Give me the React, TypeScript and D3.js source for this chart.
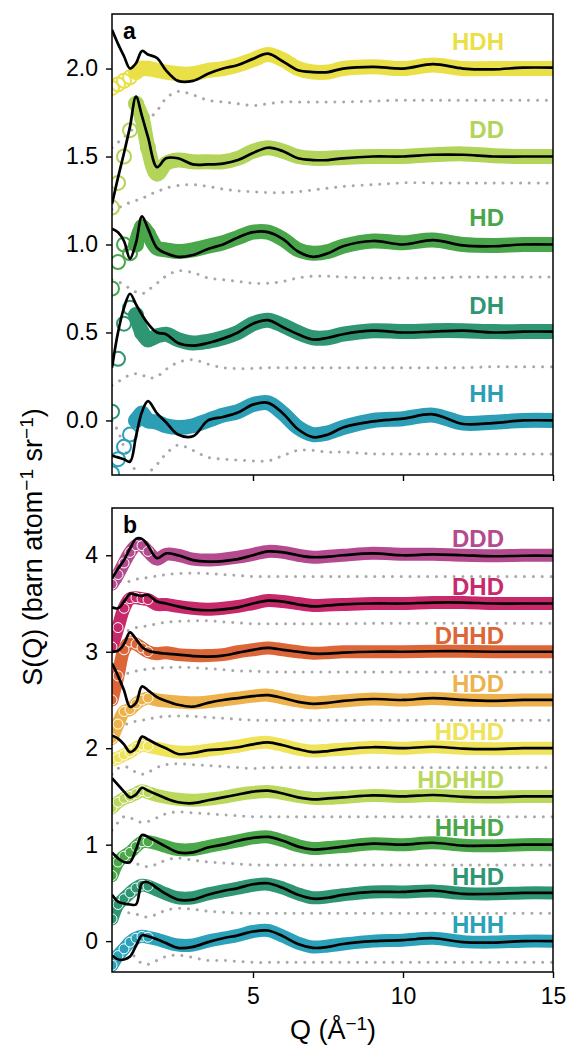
import React, { useEffect, useRef } from "react";
import * as d3 from "d3";

// Q grid (1/Å) shared by every curve
const Q = [0.3, 0.5, 0.7, 0.9, 1.1, 1.3, 1.5, 1.8, 2.1, 2.5, 3.0, 3.5, 4.0, 4.5, 5.0, 5.5, 6.0, 6.5, 7.0, 7.5, 8.0, 9.0, 10.0, 11.0, 12.0, 13.0, 14.0, 15.0];

// panel a
const topNames = ["HDH", "DD", "HD", "DH", "HH"];
const topOffsets = [2.0, 1.5, 1.0, 0.5, 0.0];
const topColors = ["#e9df47", "#b3d45a", "#4aa64a", "#2f9674", "#2c9fb6"];
const topTicks = [0, 0.5, 1.0, 1.5, 2.0];
// fitted model (black), relative to offset
const topFit = [
  [0.22, 0.14, 0.07, 0.0, 0.03, 0.10, 0.08, 0.06, -0.01, -0.07, -0.07, -0.03, 0.0, 0.02, 0.055, 0.085, 0.04, -0.01, -0.02, -0.02, 0.0, 0.01, 0.0, 0.025, 0.0, -0.005, 0.005, 0.005],
  [-0.27, -0.12, 0.02, 0.17, 0.34, 0.23, 0.11, -0.06, -0.01, -0.01, -0.045, -0.045, -0.04, -0.02, 0.02, 0.05, 0.03, -0.01, -0.02, -0.02, -0.01, 0.0, 0.0, 0.01, 0.01, 0.0, 0.0, 0.0],
  [0.09, 0.07, 0.02, -0.08, 0.01, 0.16, 0.09, -0.02, -0.05, -0.07, -0.06, -0.025, 0.0, 0.04, 0.07, 0.07, 0.03, -0.04, -0.07, -0.05, -0.01, 0.02, 0.0, 0.025, -0.005, -0.01, 0.0, 0.0],
  [-0.2, 0.0, 0.14, 0.22, 0.16, 0.1, 0.05, 0.0, -0.01, -0.06, -0.075, -0.06, -0.035, 0.0, 0.05, 0.07, 0.03, -0.01, -0.04, -0.03, -0.01, 0.01, 0.0, 0.005, 0.01, 0.0, 0.005, 0.005],
  [-0.2, -0.21, -0.22, -0.235, -0.09, 0.05, 0.11, 0.04, -0.01, -0.08, -0.09, 0.0, 0.02, 0.045, 0.09, 0.1, 0.04, -0.05, -0.095, -0.08, -0.04, -0.005, 0.01, 0.035, -0.02, -0.015, 0.0, 0.0],
];
// measured S(Q) (coloured)
const topExp = [
  [-0.11, -0.09, -0.07, -0.05, -0.02, 0.0, 0.0, -0.01, -0.02, -0.03, -0.03, -0.01, 0.0, 0.02, 0.05, 0.08, 0.05, 0.0, -0.02, -0.02, 0.0, 0.01, 0.0, 0.02, 0.0, 0.0, 0.0, 0.0],
  [-0.29, -0.15, 0.0, 0.15, 0.3, 0.22, 0.05, -0.1, -0.04, -0.02, -0.03, -0.03, -0.03, -0.01, 0.03, 0.05, 0.03, 0.0, -0.01, -0.01, -0.005, 0.0, 0.0, 0.01, 0.015, 0.005, 0.0, 0.0],
  [-0.25, -0.1, 0.0, -0.05, 0.0, 0.1, 0.06, -0.02, -0.03, -0.04, -0.03, -0.01, 0.01, 0.04, 0.07, 0.07, 0.03, -0.03, -0.05, -0.04, -0.01, 0.02, 0.01, 0.025, 0.0, -0.005, 0.0, 0.0],
  [-0.45, -0.15, 0.05, 0.14, 0.1, 0.0, -0.04, -0.02, -0.01, -0.04, -0.06, -0.05, -0.03, 0.0, 0.05, 0.07, 0.04, 0.0, -0.03, -0.03, -0.01, 0.01, 0.005, 0.01, 0.01, 0.005, 0.005, 0.005],
  [-0.3, -0.22, -0.15, -0.08, 0.0, 0.04, 0.0, -0.01, -0.03, -0.04, -0.03, 0.0, 0.03, 0.05, 0.09, 0.1, 0.04, -0.04, -0.08, -0.07, -0.04, 0.0, 0.01, 0.03, -0.015, -0.01, 0.0, 0.0],
];
// difference curves (grey dotted)
const topDiff = [
  [-0.45, -0.42, -0.39, -0.36, -0.33, -0.31, -0.29, -0.24, -0.17, -0.13, -0.15, -0.18, -0.19, -0.2, -0.21, -0.2, -0.19, -0.19, -0.19, -0.19, -0.19, -0.185, -0.18, -0.18, -0.18, -0.18, -0.18, -0.18],
  [-0.3, -0.29, -0.28, -0.26, -0.25, -0.24, -0.22, -0.2, -0.18, -0.165, -0.16, -0.17, -0.185, -0.195, -0.2, -0.205, -0.205, -0.2, -0.19, -0.18, -0.17, -0.16, -0.15, -0.15, -0.15, -0.15, -0.15, -0.15],
  [-0.2, -0.21, -0.23, -0.25, -0.27, -0.28, -0.26, -0.22, -0.18, -0.15, -0.16, -0.19, -0.2, -0.21, -0.22, -0.22, -0.21, -0.19, -0.18, -0.18, -0.185, -0.19, -0.19, -0.19, -0.185, -0.185, -0.185, -0.185],
  [-0.3, -0.28, -0.26, -0.24, -0.235, -0.24, -0.26, -0.25, -0.21, -0.17, -0.155, -0.18, -0.2, -0.205, -0.205, -0.2, -0.2, -0.2, -0.2, -0.2, -0.2, -0.2, -0.2, -0.2, -0.2, -0.195, -0.195, -0.195],
  [0.0, -0.06, -0.15, -0.23, -0.29, -0.33, -0.3, -0.25, -0.19, -0.14, -0.17, -0.21, -0.22, -0.225, -0.23, -0.23, -0.2, -0.17, -0.17, -0.18, -0.18, -0.19, -0.19, -0.19, -0.19, -0.19, -0.19, -0.19],
];

// panel b
const botNames = ["DDD", "DHD", "DHHD", "HDD", "HDHD", "HDHHD", "HHHD", "HHD", "HHH"];
const botOffsets = [4.0, 3.5, 3.0, 2.5, 2.0, 1.5, 1.0, 0.5, 0.0];
const botColors = ["#b44b8f", "#c8296b", "#dc6638", "#eeb24c", "#efe35a", "#bad85c", "#4aa84a", "#2f9674", "#2ca2ba"];
const botTicks = [0, 1, 2, 3, 4];
const botFit = [
  [-0.24, -0.14, -0.05, 0.07, 0.17, 0.17, 0.1, -0.03, 0.02, 0.0, -0.05, -0.065, -0.06, -0.04, 0.0, 0.04, 0.03, 0.0, -0.02, -0.015, 0.0, 0.02, 0.0, 0.01, 0.0, -0.01, -0.005, -0.005],
  [-0.04, -0.05, 0.02, 0.1, 0.09, 0.08, 0.09, 0.02, 0.0, -0.03, -0.06, -0.07, -0.06, -0.04, 0.0, 0.03, 0.02, -0.01, -0.03, -0.02, -0.01, 0.0, 0.0, 0.01, 0.01, 0.0, 0.0, 0.0],
  [0.0, 0.01, 0.08, 0.2, 0.13, 0.05, 0.01, -0.01, -0.02, -0.03, -0.045, -0.05, -0.04, -0.01, 0.02, 0.04, 0.02, 0.0, -0.02, -0.02, -0.01, 0.0, 0.0, 0.005, 0.005, 0.0, 0.0, 0.0],
  [0.38, 0.25, 0.1, -0.07, -0.03, 0.14, 0.1, 0.03, -0.01, -0.05, -0.07, -0.03, 0.0, 0.02, 0.04, 0.05, 0.02, -0.02, -0.04, -0.03, -0.01, 0.01, 0.0, 0.02, 0.0, -0.01, 0.0, 0.0],
  [0.13, 0.1, 0.04, -0.04, 0.0, 0.12, 0.09, 0.04, 0.0, -0.06, -0.05, -0.02, -0.01, 0.01, 0.04, 0.06, 0.03, -0.01, -0.04, -0.03, -0.01, 0.01, 0.0, 0.015, -0.005, -0.01, 0.0, 0.0],
  [0.19, 0.12, 0.05, -0.01, 0.02, 0.09, 0.06, 0.02, -0.02, -0.06, -0.07, -0.04, -0.01, 0.02, 0.05, 0.06, 0.03, -0.01, -0.03, -0.02, -0.01, 0.01, 0.0, 0.015, -0.005, -0.01, 0.0, 0.0],
  [-0.08, -0.14, -0.18, -0.18, -0.05, 0.1, 0.08, 0.03, -0.02, -0.08, -0.08, -0.03, 0.0, 0.04, 0.07, 0.08, 0.04, -0.02, -0.05, -0.04, -0.02, 0.01, 0.0, 0.02, -0.01, -0.01, 0.0, 0.0],
  [-0.02, -0.09, -0.11, -0.12, -0.12, 0.1, 0.11, 0.05, -0.01, -0.07, -0.07, -0.02, 0.02, 0.05, 0.09, 0.1, 0.05, -0.02, -0.06, -0.05, -0.02, 0.01, 0.01, 0.025, -0.01, -0.01, 0.0, 0.0],
  [-0.15, -0.19, -0.19, -0.16, -0.05, 0.06, 0.05, 0.02, -0.02, -0.07, -0.06, -0.01, 0.03, 0.06, 0.1, 0.11, 0.05, -0.03, -0.07, -0.06, -0.03, 0.0, 0.01, 0.03, -0.01, -0.015, 0.0, 0.0],
];
const botExp = [
  [-0.3, -0.2, -0.08, 0.03, 0.1, 0.1, 0.04, -0.04, 0.01, 0.0, -0.04, -0.05, -0.04, -0.02, 0.01, 0.04, 0.03, 0.0, -0.02, -0.01, 0.0, 0.02, 0.01, 0.01, 0.0, -0.005, 0.0, 0.0],
  [-0.45, -0.25, -0.05, 0.05, 0.06, 0.05, 0.04, -0.01, -0.01, -0.03, -0.05, -0.06, -0.05, -0.03, 0.0, 0.03, 0.02, 0.0, -0.02, -0.015, -0.01, 0.0, 0.0, 0.01, 0.01, 0.0, 0.0, 0.0],
  [-0.5, -0.25, 0.02, 0.1, 0.08, 0.04, 0.0, -0.02, -0.01, -0.03, -0.04, -0.04, -0.03, 0.0, 0.02, 0.04, 0.02, 0.0, -0.015, -0.01, 0.0, 0.0, 0.0, 0.005, 0.005, 0.0, 0.0, 0.0],
  [-0.4, -0.25, -0.12, -0.1, -0.04, 0.0, 0.02, 0.0, -0.01, -0.02, -0.03, -0.02, 0.0, 0.02, 0.04, 0.05, 0.02, -0.01, -0.03, -0.02, -0.01, 0.01, 0.0, 0.015, 0.0, -0.005, 0.0, 0.0],
  [-0.12, -0.1, -0.07, -0.04, 0.0, 0.03, 0.02, 0.0, -0.02, -0.04, -0.04, -0.02, 0.0, 0.02, 0.05, 0.06, 0.03, -0.01, -0.03, -0.02, -0.01, 0.01, 0.0, 0.015, 0.0, -0.005, 0.0, 0.0],
  [-0.12, -0.06, -0.02, 0.0, 0.03, 0.06, 0.04, 0.01, -0.01, -0.03, -0.04, -0.03, -0.01, 0.02, 0.04, 0.05, 0.03, 0.0, -0.02, -0.02, -0.01, 0.01, 0.0, 0.01, 0.0, -0.005, 0.0, 0.0],
  [-0.32, -0.18, -0.12, -0.08, -0.02, 0.03, 0.03, 0.01, -0.02, -0.05, -0.05, -0.02, 0.01, 0.04, 0.07, 0.08, 0.04, -0.01, -0.04, -0.03, -0.02, 0.01, 0.0, 0.02, -0.005, -0.01, 0.0, 0.0],
  [-0.27, -0.12, -0.06, 0.0, 0.05, 0.08, 0.07, 0.03, -0.01, -0.05, -0.05, -0.01, 0.02, 0.05, 0.08, 0.09, 0.05, -0.01, -0.05, -0.04, -0.02, 0.01, 0.01, 0.02, -0.005, -0.01, 0.0, 0.0],
  [-0.25, -0.15, -0.08, -0.01, 0.03, 0.05, 0.04, 0.02, -0.01, -0.04, -0.04, 0.0, 0.03, 0.06, 0.1, 0.11, 0.05, -0.02, -0.06, -0.05, -0.03, 0.0, 0.01, 0.03, -0.005, -0.01, 0.0, 0.0],
];
const botDiff = [
  [-0.24, -0.26, -0.28, -0.27, -0.25, -0.24, -0.23, -0.215, -0.2, -0.19, -0.185, -0.19, -0.2, -0.21, -0.22, -0.22, -0.22, -0.22, -0.22, -0.22, -0.22, -0.22, -0.22, -0.22, -0.22, -0.22, -0.22, -0.22],
  [-0.35, -0.33, -0.31, -0.27, -0.25, -0.24, -0.23, -0.21, -0.195, -0.185, -0.18, -0.18, -0.19, -0.2, -0.21, -0.21, -0.21, -0.21, -0.21, -0.21, -0.21, -0.205, -0.205, -0.205, -0.205, -0.205, -0.205, -0.205],
  [-0.3, -0.26, -0.23, -0.22, -0.2, -0.19, -0.18, -0.17, -0.165, -0.16, -0.165, -0.175, -0.185, -0.2, -0.2, -0.21, -0.21, -0.21, -0.21, -0.21, -0.21, -0.21, -0.21, -0.21, -0.21, -0.21, -0.21, -0.21],
  [-0.35, -0.3, -0.26, -0.24, -0.22, -0.21, -0.2, -0.18, -0.17, -0.165, -0.17, -0.18, -0.19, -0.2, -0.21, -0.21, -0.21, -0.21, -0.21, -0.21, -0.21, -0.21, -0.21, -0.21, -0.21, -0.21, -0.21, -0.21],
  [-0.27, -0.21, -0.19, -0.21, -0.25, -0.27, -0.25, -0.2, -0.17, -0.16, -0.17, -0.18, -0.19, -0.2, -0.21, -0.2, -0.2, -0.2, -0.2, -0.2, -0.2, -0.2, -0.2, -0.2, -0.2, -0.2, -0.2, -0.2],
  [-0.35, -0.27, -0.21, -0.22, -0.25, -0.27, -0.26, -0.22, -0.18, -0.16, -0.17, -0.18, -0.19, -0.2, -0.21, -0.21, -0.21, -0.21, -0.21, -0.21, -0.21, -0.21, -0.21, -0.21, -0.21, -0.21, -0.21, -0.21],
  [-0.15, -0.17, -0.18, -0.19, -0.2, -0.21, -0.23, -0.2, -0.16, -0.14, -0.16, -0.18, -0.19, -0.2, -0.21, -0.21, -0.21, -0.21, -0.21, -0.21, -0.21, -0.21, -0.21, -0.21, -0.21, -0.21, -0.21, -0.21],
  [-0.15, -0.17, -0.19, -0.21, -0.22, -0.24, -0.25, -0.22, -0.18, -0.16, -0.17, -0.19, -0.2, -0.21, -0.21, -0.21, -0.21, -0.21, -0.21, -0.21, -0.21, -0.21, -0.21, -0.21, -0.21, -0.21, -0.21, -0.21],
  [-0.1, -0.07, -0.06, -0.1, -0.18, -0.23, -0.24, -0.2, -0.16, -0.145, -0.17, -0.2, -0.2, -0.21, -0.22, -0.22, -0.22, -0.22, -0.22, -0.22, -0.22, -0.22, -0.22, -0.22, -0.22, -0.22, -0.22, -0.22],
];

const xTicks = [5, 10, 15];
const FONT = "'Liberation Sans', Arial, Helvetica, sans-serif";

export default function App() {
  const ref = useRef<SVGSVGElement>(null);

  useEffect(() => {
    const svg = d3.select(ref.current);
    svg.selectAll("*").remove();

    const left = 112, right = 553;
    const x = d3.scaleLinear().domain([0.3, 15]).range([left, right]);

    const panels = [
      { top: 14, bottom: 475, domain: [-0.31, 2.31], ticks: topTicks, fmt: d3.format(".1f"), names: topNames, offsets: topOffsets, colors: topColors, fit: topFit, exp: topExp, diff: topDiff, letter: "a", letterY: 39, lift: 0.105, showX: false, band: 15, ring: 7, bandFrom: 4 },
      { top: 508, bottom: 972, domain: [-0.32, 4.49], ticks: botTicks, fmt: d3.format("d"), names: botNames, offsets: botOffsets, colors: botColors, fit: botFit, exp: botExp, diff: botDiff, letter: "b", letterY: 533, lift: 0.085, showX: true, band: 13, ring: 5, bandFrom: 0 },
    ];

    panels.forEach((p, pi) => {
      const y = d3.scaleLinear().domain(p.domain).range([p.bottom, p.top]);
      const clipId = "clip" + pi;
      svg.append("clipPath").attr("id", clipId)
        .append("rect")
        .attr("x", left).attr("y", p.top)
        .attr("width", right - left).attr("height", p.bottom - p.top);

      const g = svg.append("g").attr("clip-path", `url(#${clipId})`);

      const makeLine = (off: number) =>
        d3.line<[number, number]>()
          .x((d) => x(d[0]))
          .y((d) => y(d[1] + off))
          .curve(d3.curveCatmullRom.alpha(0.5));

      const pts = (vals: number[]) => vals.map((v, i) => [Q[i], v] as [number, number]);

      // grey dotted difference curves
      p.diff.forEach((vals, i) => {
        g.append("path")
          .attr("d", makeLine(p.offsets[i])(pts(vals)))
          .attr("fill", "none")
          .attr("stroke", "#a8a8a8")
          .attr("stroke-width", 3)
          .attr("stroke-linecap", "round")
          .attr("stroke-dasharray", "0.01 8.8");
      });

      // measured data: thick band + hollow markers at low Q
      p.exp.forEach((vals, i) => {
        const col = p.colors[i];
        g.append("path")
          .attr("d", makeLine(p.offsets[i])(pts(vals).slice(p.bandFrom)))
          .attr("fill", "none")
          .attr("stroke", col)
          .attr("stroke-width", p.band)
          .attr("stroke-linecap", "round")
          .attr("stroke-linejoin", "round");
        g.selectAll(null)
          .data(pts(vals).slice(0, 7))
          .join("circle")
          .attr("cx", (d) => x(d[0]))
          .attr("cy", (d) => y(d[1] + p.offsets[i]))
          .attr("r", p.ring)
          .attr("fill", pi === 0 ? "none" : col)
          .attr("stroke", pi === 0 ? col : "#ffffff")
          .attr("stroke-width", pi === 0 ? 2 : 1);
      });

      // model fits
      p.fit.forEach((vals, i) => {
        g.append("path")
          .attr("d", makeLine(p.offsets[i])(pts(vals)))
          .attr("fill", "none")
          .attr("stroke", "#000")
          .attr("stroke-width", 2.7)
          .attr("stroke-linejoin", "round");
      });

      // series labels
      svg.append("g")
        .selectAll("text")
        .data(p.names)
        .join("text")
        .attr("x", 504)
        .attr("y", (_, i) => y(p.offsets[i] + p.lift))
        .attr("text-anchor", "end")
        .attr("font-family", FONT)
        .attr("font-weight", "bold")
        .attr("font-size", 24)
        .attr("fill", (_, i) => p.colors[i])
        .text((d) => d);

      // frame
      svg.append("rect")
        .attr("x", left).attr("y", p.top)
        .attr("width", right - left).attr("height", p.bottom - p.top)
        .attr("fill", "none").attr("stroke", "#000").attr("stroke-width", 1.5);

      // y axis
      const ya = svg.append("g")
        .attr("transform", `translate(${left},0)`)
        .call(d3.axisLeft(y).tickValues(p.ticks).tickFormat(p.fmt as any).tickSize(6).tickPadding(8));
      ya.select(".domain").remove();
      ya.selectAll("line").attr("stroke-width", 1.4);
      ya.selectAll("text").attr("font-family", FONT).attr("font-size", 23).attr("fill", "#000");

      // x axis
      const xa = svg.append("g")
        .attr("transform", `translate(0,${p.bottom})`)
        .call(d3.axisBottom(x).tickValues(xTicks).tickSize(6).tickPadding(10).tickFormat(p.showX ? d3.format("d") : (() => "") as any));
      xa.select(".domain").remove();
      xa.selectAll("line").attr("stroke-width", 1.4);
      xa.selectAll("text").attr("font-family", FONT).attr("font-size", 23).attr("fill", "#000");

      // panel letter
      svg.append("text")
        .attr("x", 123).attr("y", p.letterY)
        .attr("font-family", FONT).attr("font-weight", "bold").attr("font-size", 23)
        .text(p.letter);
    });

    // axis titles
    const yl = svg.append("text")
      .attr("transform", "translate(42,547) rotate(-90)")
      .attr("text-anchor", "middle")
      .attr("font-family", FONT)
      .attr("font-size", 27);
    yl.append("tspan").text("S(Q) (barn atom");
    yl.append("tspan").attr("dy", -9).attr("font-size", 19).text("\u22121");
    yl.append("tspan").attr("dy", 9).text(" sr");
    yl.append("tspan").attr("dy", -9).attr("font-size", 19).text("\u22121");
    yl.append("tspan").attr("dy", 9).text(")");

    const xl = svg.append("text")
      .attr("x", 333).attr("y", 1039)
      .attr("text-anchor", "middle")
      .attr("font-family", FONT)
      .attr("font-size", 27);
    xl.append("tspan").text("Q (\u00c5");
    xl.append("tspan").attr("dy", -9).attr("font-size", 19).text("\u22121");
    xl.append("tspan").attr("dy", 9).text(")");
  }, []);

  return (
    <svg
      ref={ref}
      width={568}
      height={1048}
      style={{ position: "absolute", left: 0, top: 0, background: "#fff" }}
    />
  );
}
